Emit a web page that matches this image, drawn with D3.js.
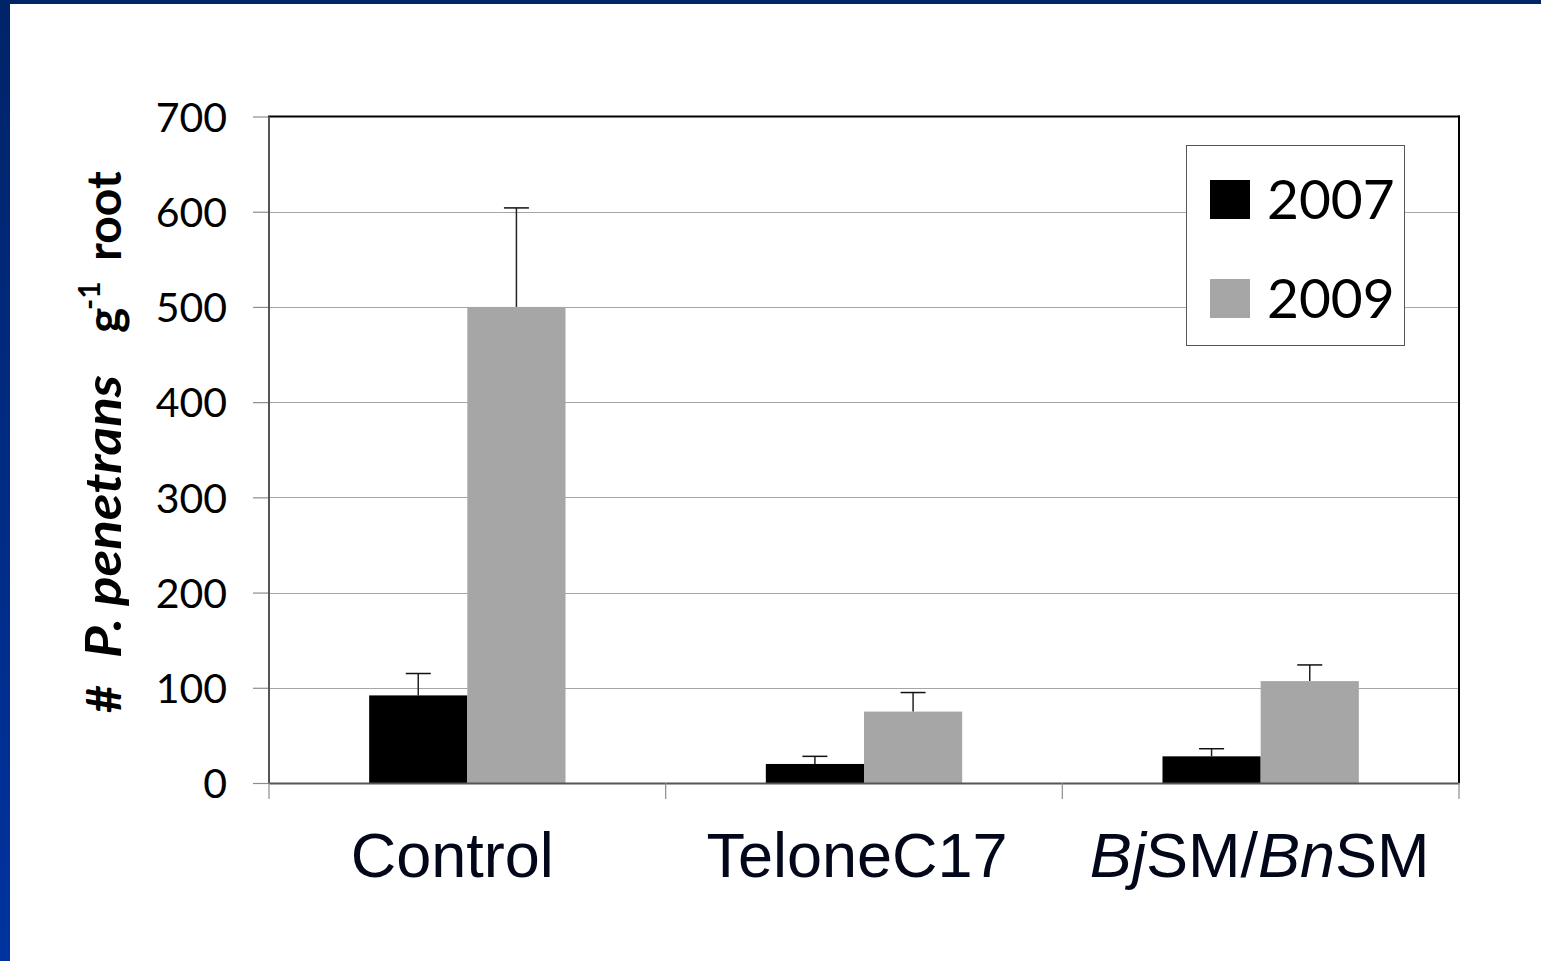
<!DOCTYPE html>
<html><head><meta charset="utf-8">
<script src="https://cdn.jsdelivr.net/npm/d3@7"></script>
<style>html,body{margin:0;padding:0;background:#fff;overflow:hidden}</style>
</head><body>
<script>
const categories = ["Control", "TeloneC17", "BjSM/BnSM"];
const seriesNames = ["2007", "2009"];
const values2007 = [92, 20, 28];
const values2009 = [500, 75, 107];
const errors2007 = [23, 8, 8];
const errors2009 = [104, 20, 17];
const yTicks = [0, 100, 200, 300, 400, 500, 600, 700];
const colors = ["#000000", "#a6a6a6"];

const W = 1541, H = 961;
const svg = d3.select("body").append("svg").attr("width", W).attr("height", H);
const defs = svg.append("defs");
const grad = defs.append("linearGradient").attr("id", "bg").attr("x1", 0).attr("y1", 0).attr("x2", 0).attr("y2", 1);
grad.append("stop").attr("offset", "0%").attr("stop-color", "#002468");
grad.append("stop").attr("offset", "100%").attr("stop-color", "#0033a0");
svg.append("rect").attr("width", W).attr("height", H).attr("fill", "url(#bg)");
svg.append("rect").attr("x", 10).attr("y", 4).attr("width", W - 10).attr("height", H - 4).attr("fill", "#fff");

const L = 269, R = 1459, T = 116.5, B = 783;
const y = d3.scaleLinear().domain([0, 700]).range([B, T]);
const x0 = d3.scaleBand().domain(categories).range([L, R]).paddingInner(0.505).paddingOuter(0.2525);
const x1 = d3.scaleBand().domain(seriesNames).range([0, x0.bandwidth()]).padding(0);

// gridlines
svg.append("g").selectAll("line").data(yTicks.filter(d => d > 0 && d < 700)).join("line")
  .attr("x1", L).attr("x2", R).attr("y1", d => Math.round(y(d)) + 0.5).attr("y2", d => Math.round(y(d)) + 0.5)
  .attr("stroke", "#a6a6a6").attr("stroke-width", 1);

// y axis
const yAxis = svg.append("g").attr("transform", `translate(${L},0)`)
  .call(d3.axisLeft(y).tickValues(yTicks).tickSize(16).tickPadding(26));
yAxis.select(".domain").remove();
yAxis.selectAll(".tick line").attr("stroke", "#8c8c8c").attr("stroke-width", 1.2);
yAxis.selectAll(".tick text").attr("font-family", "Lato, 'Open Sans', sans-serif").attr("font-size", 41).attr("fill", "#000").attr("dy", "0.36em");

// bars
const data = categories.map((c, i) => ({
  cat: c,
  items: [
    {s: "2007", v: values2007[i], e: errors2007[i], c: colors[0]},
    {s: "2009", v: values2009[i], e: errors2009[i], c: colors[1]}
  ]
}));
const groups = svg.append("g").selectAll("g").data(data).join("g")
  .attr("transform", d => `translate(${x0(d.cat)},0)`);
groups.selectAll("rect").data(d => d.items).join("rect")
  .attr("x", d => x1(d.s)).attr("width", x1.bandwidth())
  .attr("y", d => y(d.v)).attr("height", d => y(0) - y(d.v))
  .attr("fill", d => d.c);
// error bars
groups.selectAll("line.stem").data(d => d.items).join("line").attr("class", "stem")
  .attr("x1", d => x1(d.s) + x1.bandwidth() / 2).attr("x2", d => x1(d.s) + x1.bandwidth() / 2)
  .attr("y1", d => y(d.v)).attr("y2", d => y(d.v + d.e))
  .attr("stroke", "#222").attr("stroke-width", 1.5);
groups.selectAll("line.cap").data(d => d.items).join("line").attr("class", "cap")
  .attr("x1", d => x1(d.s) + x1.bandwidth() / 2 - 12.5).attr("x2", d => x1(d.s) + x1.bandwidth() / 2 + 12.5)
  .attr("y1", d => y(d.v + d.e)).attr("y2", d => y(d.v + d.e))
  .attr("stroke", "#111").attr("stroke-width", 1.5);

// plot frame: top/right black, left/bottom grey
svg.append("line").attr("x1", L - 1).attr("x2", R + 1).attr("y1", T).attr("y2", T).attr("stroke", "#000").attr("stroke-width", 2);
svg.append("line").attr("x1", R).attr("x2", R).attr("y1", T - 1).attr("y2", B).attr("stroke", "#000").attr("stroke-width", 2);
svg.append("line").attr("x1", L).attr("x2", L).attr("y1", T).attr("y2", B + 1).attr("stroke", "#555").attr("stroke-width", 2);

// x axis
const xAxis = svg.append("g").attr("transform", `translate(0,${B})`)
  .call(d3.axisBottom(x0).tickSize(0).tickFormat(""));
xAxis.select(".domain").attr("stroke", "#555").attr("stroke-width", 2);
xAxis.selectAll(".tick").remove();
const boundaries = [L].concat(categories.map(c => x0(c) - x0.step() * x0.paddingInner() / 2 + x0.step()));
svg.append("g").selectAll("line").data(boundaries).join("line")
  .attr("x1", d => d).attr("x2", d => d).attr("y1", B).attr("y2", B + 16)
  .attr("stroke", "#8c8c8c").attr("stroke-width", 1.2);

// category labels
const catParts = {
  "Control": [["Control", false]],
  "TeloneC17": [["TeloneC17", false]],
  "BjSM/BnSM": [["Bj", true], ["SM/", false], ["Bn", true], ["SM", false]]
};
const catOffset = {"Control": -15, "TeloneC17": -7, "BjSM/BnSM": -1};
svg.append("g").selectAll("text").data(categories).join("text")
  .attr("x", d => x0(d) + x0.bandwidth() / 2 + catOffset[d]).attr("y", 877)
  .attr("text-anchor", "middle").attr("font-family", "'Liberation Sans', Arial, sans-serif")
  .attr("font-size", 63).attr("fill", "#03071a")
  .each(function(d) {
    const t = d3.select(this);
    catParts[d].forEach(p => t.append("tspan").text(p[0]).attr("font-style", p[1] ? "italic" : "normal"));
  });

// y title (rotated; pieces placed along the axis)
const yt = svg.append("g").attr("transform", "translate(121,0) rotate(-90)")
  .attr("font-family", "Lato, 'Open Sans', sans-serif").attr("font-weight", "bold").attr("fill", "#000");
const titleParts = [
  {t: "#", start: 713, italic: false, size: 48, shift: 0, len: null},
  {t: "P. penetrans", start: 658, italic: true, size: 50, shift: 0, len: 283},
  {t: "g", start: 333, italic: false, size: 48, shift: 0, len: null},
  {t: "-1", start: 310, italic: false, size: 30, shift: -21, len: null},
  {t: "root", start: 261, italic: false, size: 48, shift: 0, len: null}
];
yt.selectAll("text").data(titleParts).join("text")
  .attr("x", d => -d.start).attr("y", d => d.shift)
  .attr("font-size", d => d.size).attr("font-style", d => d.italic ? "italic" : "normal")
  .each(function(d) { if (d.len) d3.select(this).attr("textLength", d.len).attr("lengthAdjust", "spacingAndGlyphs"); })
  .text(d => d.t);

// legend
const lg = svg.append("g");
lg.append("rect").attr("x", 1186.5).attr("y", 145.5).attr("width", 218).attr("height", 200)
  .attr("fill", "#fff").attr("stroke", "#555").attr("stroke-width", 1);
const legY = [180, 279];
seriesNames.forEach((s, i) => {
  lg.append("rect").attr("x", 1210).attr("y", legY[i]).attr("width", 40).attr("height", 39).attr("fill", colors[i]);
  lg.append("text").attr("x", 1267).attr("y", legY[i] + 39).attr("font-family", "Lato, 'Open Sans', sans-serif")
    .attr("font-size", 55).attr("fill", "#000").text(s);
});
</script>
</body></html>
